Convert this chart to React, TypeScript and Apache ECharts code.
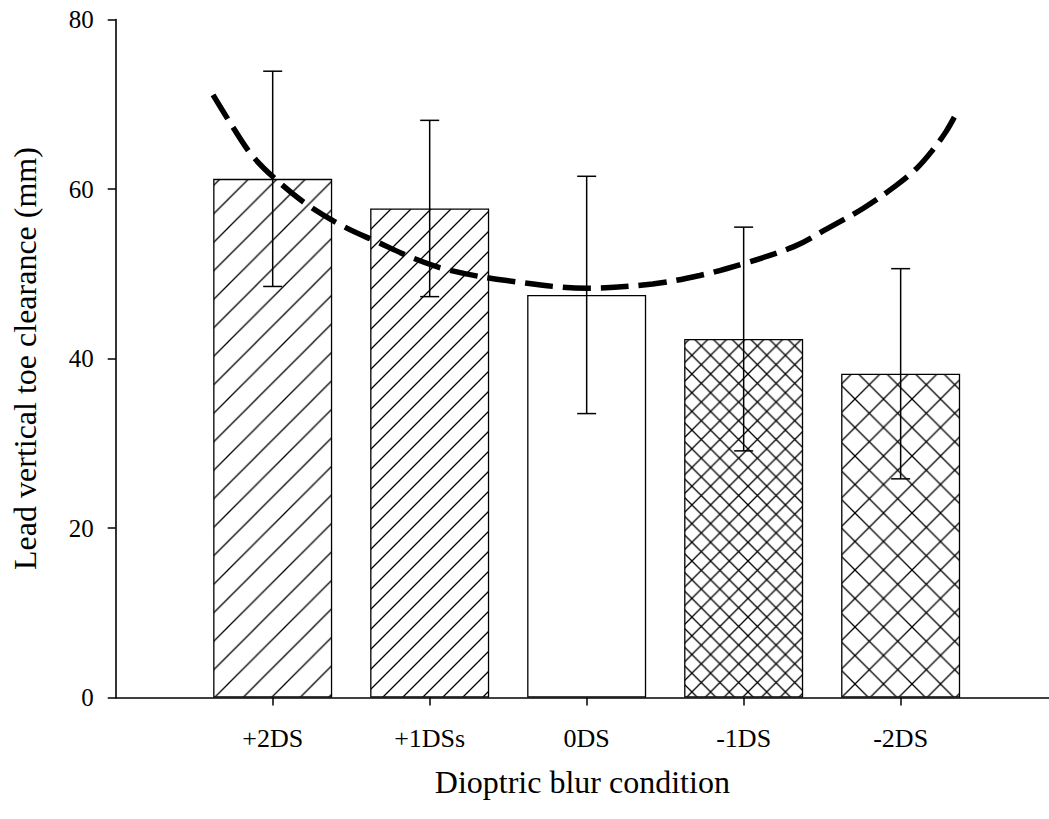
import React, { useEffect, useRef } from "react";
import * as echarts from "echarts";

const categories = ["+2DS", "+1DSs", "0DS", "-1DS", "-2DS"];
const positions = [1, 2, 3, 4, 5];
const means = [61.2, 57.7, 47.5, 42.3, 38.2];
const errLow = [48.5, 47.3, 33.5, 29.1, 25.8];
const errHigh = [73.9, 68.1, 61.5, 55.5, 50.6];
const curveX = [0.62, 0.75, 0.876, 1.047, 1.24, 1.46, 1.66, 1.9, 2.13, 2.49, 3.0, 3.42, 3.72, 4.0, 4.32, 4.53, 4.76, 4.97, 5.1, 5.2, 5.29, 5.36];
const curveY = [71.1, 67.2, 63.8, 60.7, 57.9, 55.5, 53.8, 51.8, 50.4, 49.2, 48.3, 48.8, 49.8, 51.2, 53.2, 55.3, 57.7, 60.4, 62.4, 64.5, 66.8, 69.1];
const yTicks = [0, 20, 40, 60, 80];

const FONT = "'Liberation Serif', 'Times New Roman', serif";

function hatchPattern(p: number, fwd: boolean, back: boolean) {
  let d = "";
  if (fwd) d += `M-1,1 L1,-1 M0,${p} L${p},0 M${p - 1},${p + 1} L${p + 1},${p - 1} `;
  if (back) d += `M${p - 1},-1 L${p + 1},1 M0,0 L${p},${p} M-1,${p - 1} L1,${p + 1}`;
  const svg = `<svg xmlns='http://www.w3.org/2000/svg' width='${p}' height='${p}'><rect width='${p}' height='${p}' fill='white'/><path d='${d}' stroke='black' stroke-width='1.3' fill='none'/></svg>`;
  return {
    image: "data:image/svg+xml;charset=utf-8," + encodeURIComponent(svg),
    repeat: "repeat",
    imageWidth: p,
    imageHeight: p,
  };
}

export default function App() {
  const ref = useRef<HTMLDivElement>(null);
  useEffect(() => {
    if (!ref.current) return;
    const chart = echarts.init(ref.current, undefined, { renderer: "svg" });
    const fills: any[] = [
      hatchPattern(28.5, true, false),
      hatchPattern(20, true, false),
      "#ffffff",
      hatchPattern(18.7, true, true),
      hatchPattern(28.5, true, true),
    ];
    chart.setOption({
      animation: false,
      backgroundColor: "#ffffff",
      grid: { left: 115.7, top: 19.5, right: 0, bottom: 121.5, containLabel: false, outerBoundsMode: "none" },
      xAxis: {
        type: "value",
        min: 0,
        max: 5.945,
        interval: 1,
        splitLine: { show: false },
        axisLine: { show: true, onZero: false, lineStyle: { color: "#000", width: 1.6 } },
        axisTick: { show: true, length: 8, customValues: positions, lineStyle: { color: "#000", width: 1.5 } },
        axisLabel: {
          customValues: positions,
          formatter: (v: number) => categories[Math.round(v) - 1] ?? "",
          color: "#000",
          fontFamily: FONT,
          fontSize: 26,
          margin: 28,
        },
        name: "Dioptric blur condition",
        nameLocation: "middle",
        nameGap: 68,
        nameTextStyle: { color: "#000", fontFamily: FONT, fontSize: 32 },
      },
      yAxis: {
        type: "value",
        min: 0,
        max: 80,
        interval: 20,
        splitLine: { show: false },
        axisLine: { show: true, lineStyle: { color: "#000", width: 1.6 } },
        axisTick: { show: true, length: 8, lineStyle: { color: "#000", width: 1.5 } },
        axisLabel: {
          customValues: yTicks,
          color: "#000",
          fontFamily: FONT,
          fontSize: 25,
          margin: 22,
        },
        name: "Lead vertical toe clearance (mm)",
        nameLocation: "middle",
        nameGap: 75,
        nameTextStyle: { color: "#000", fontFamily: FONT, fontSize: 32 },
      },
      series: [
        {
          type: "bar",
          barWidth: 119,
          data: positions.map((p, i) => ({
            value: [p, means[i]],
            itemStyle: { color: fills[i], borderColor: "#000", borderWidth: 1.3 },
          })),
          z: 2,
        },
        {
          type: "custom",
          data: positions.map((p, i) => [p, errLow[i], errHigh[i]]),
          encode: { x: 0, y: [1, 2] },
          z: 3,
          renderItem: (params: any, api: any) => {
            const x = api.value(0);
            const top = api.coord([x, api.value(2)]);
            const bot = api.coord([x, api.value(1)]);
            const hw = 9.5;
            const st = { stroke: "#000", lineWidth: 1.5 };
            return {
              type: "group",
              children: [
                { type: "line", shape: { x1: top[0], y1: top[1], x2: bot[0], y2: bot[1] }, style: st },
                { type: "line", shape: { x1: top[0] - hw, y1: top[1], x2: top[0] + hw, y2: top[1] }, style: st },
                { type: "line", shape: { x1: bot[0] - hw, y1: bot[1], x2: bot[0] + hw, y2: bot[1] }, style: st },
              ],
            };
          },
        },
        {
          type: "line",
          data: curveX.map((x, i) => [x, curveY[i]]),
          smooth: 0.35,
          showSymbol: false,
          symbol: "none",
          z: 4,
          lineStyle: { color: "#000", width: 5.5, type: [28, 10] },
        },
      ],
    });
    return () => chart.dispose();
  }, []);
  return <div ref={ref} style={{ position: "absolute", left: 0, top: 0, width: 1049, height: 819 }} />;
}
